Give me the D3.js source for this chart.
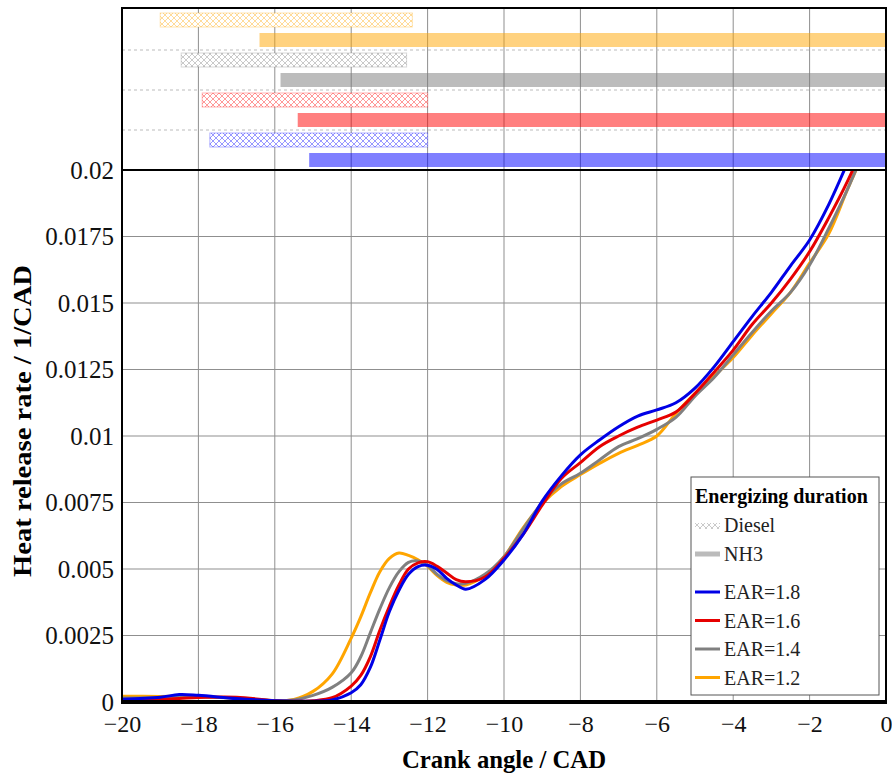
<!DOCTYPE html>
<html>
<head>
<meta charset="utf-8">
<script src="https://cdn.jsdelivr.net/npm/d3@7"></script>
<style>
  body { margin: 0; background: #fff; }
  text { font-family: 'Liberation Serif', 'Times New Roman', serif; }
</style>
</head>
<body>
<div class="canvas"></div>
<script>
// crank angle grid (CAD)
const crankAngle = [-20, -19, -18.5, -18, -17, -16, -15.5, -15, -14.5, -14, -13.75, -13.5, -13.25, -13,
  -12.75, -12.5, -12.25, -12, -11.75, -11.5, -11.25, -11, -10.5, -10, -9.5, -9, -8.5, -8, -7.5, -7,
  -6.5, -6, -5.5, -5, -4.5, -4, -3.5, -3, -2.5, -2, -1.5, -1, -0.5]

// heat release rate (1/CAD)
const hrr18 = [0.0001, 0.00018, 0.00028, 0.00025, 0.00013, 0.00005, 0.00003, 0.00003, 0.00008, 0.00035, 0.00065, 0.0013, 0.00233, 0.0034,
  0.0042, 0.0048, 0.00509, 0.00514, 0.00498, 0.00465, 0.0044, 0.00424, 0.0046, 0.00534, 0.0063, 0.00755, 0.0085, 0.00929, 0.00985, 0.01035,
  0.01075, 0.01098, 0.01125, 0.0118, 0.0126, 0.01355, 0.0145, 0.0154, 0.0164, 0.01737, 0.0187, 0.0203, 0.022]
const hrr16 = [0.00007, 0.0001, 0.00013, 0.00017, 0.00018, 0.00005, 0.00003, 0.00005, 0.00016, 0.0006, 0.001, 0.0017, 0.0027, 0.0036,
  0.0044, 0.005, 0.00523, 0.00527, 0.0051, 0.00485, 0.0046, 0.00452, 0.0047, 0.0054, 0.0063, 0.0074, 0.0084, 0.009, 0.0096, 0.01,
  0.01033, 0.0106, 0.0109, 0.0116, 0.0124, 0.01323, 0.0142, 0.015, 0.0159, 0.01693, 0.0182, 0.0196, 0.0212]
const hrr14 = [0.00015, 0.00017, 0.0002, 0.0002, 0.00014, 0.00005, 0.00008, 0.00025, 0.00055, 0.0011, 0.0017, 0.0026, 0.0035, 0.0043,
  0.0049, 0.00525, 0.0053, 0.00512, 0.0048, 0.00456, 0.00445, 0.00446, 0.0048, 0.00546, 0.0065, 0.0075, 0.0082, 0.0086, 0.0091, 0.0096,
  0.0099, 0.01025, 0.0107, 0.0115, 0.0122, 0.01305, 0.0139, 0.0147, 0.0154, 0.01643, 0.0178, 0.0193, 0.021]
const hrr12 = [0.00022, 0.00021, 0.00022, 0.00022, 0.00014, 0.00005, 0.0001, 0.0004, 0.00105, 0.0024, 0.0032, 0.0041, 0.0049, 0.0054,
  0.0056, 0.00551, 0.00535, 0.0051, 0.00475, 0.0045, 0.0044, 0.0044, 0.00475, 0.00546, 0.00655, 0.00745, 0.0081, 0.00855, 0.00897, 0.00935,
  0.00965, 0.01, 0.01085, 0.0116, 0.01225, 0.01295, 0.0138, 0.0146, 0.0154, 0.0165, 0.0176, 0.0193, 0.0209]

// energizing duration bars (CAD), top to bottom
const barCases = ['EAR=1.2', 'EAR=1.4', 'EAR=1.6', 'EAR=1.8']
const dieselStart = [-19.0, -18.45, -17.9, -17.7]
const dieselEnd = [-12.4, -12.55, -12.0, -12.0]
const nh3Start = [-16.4, -15.85, -15.4, -15.1]
const nh3End = [0, 0, 0, 0]

const xTicks = d3.range(-20, 1, 2)
const yTicks = d3.range(0, 0.0201, 0.0025)

const series = [
  { name: 'EAR=1.8', values: hrr18, color: '#0000e6' },
  { name: 'EAR=1.6', values: hrr16, color: '#e60000' },
  { name: 'EAR=1.4', values: hrr14, color: '#808080' },
  { name: 'EAR=1.2', values: hrr12, color: '#ffa500' }
]
const barColor = { 'EAR=1.2': '#ffa500', 'EAR=1.4': '#7a7a7a', 'EAR=1.6': '#ff0000', 'EAR=1.8': '#0000ff' }

const dims = { width: 892, height: 778 }
const plot = { left: 122, right: 886, top: 8, split: 170, bottom: 702 }

const svg = d3.select('.canvas').append('svg')
  .attr('width', dims.width)
  .attr('height', dims.height)

const x = d3.scaleLinear().domain([-20, 0]).range([plot.left, plot.right])
const y = d3.scaleLinear().domain([0, 0.02]).range([plot.bottom, plot.split])

const groupY = d3.scaleBand().domain(barCases).range([10, plot.split])
const rowY = d3.scaleBand().domain(['diesel', 'nh3']).range([0, groupY.bandwidth()])
  .paddingInner(0.3).paddingOuter(0.15)

// hatch patterns
const defs = svg.append('defs')
barCases.forEach((c, i) => {
  const p = defs.append('pattern')
    .attr('id', `hatch${i}`)
    .attr('patternUnits', 'userSpaceOnUse')
    .attr('width', 6).attr('height', 6)
  p.append('rect').attr('width', 6).attr('height', 6).attr('fill', '#fff')
  p.append('path')
    .attr('d', 'M0,0 L6,6 M6,0 L0,6')
    .attr('stroke', barColor[c])
    .attr('stroke-opacity', 0.5)
    .attr('stroke-width', 0.8)
})
defs.append('clipPath').attr('id', 'plotClip')
  .append('rect')
  .attr('x', plot.left).attr('y', plot.split)
  .attr('width', plot.right - plot.left).attr('height', plot.bottom - plot.split)

// grid
svg.append('g')
  .selectAll('line')
  .data(xTicks.slice(1, -1))
  .join('line')
  .attr('x1', d => x(d)).attr('x2', d => x(d))
  .attr('y1', plot.top).attr('y2', plot.bottom)
  .attr('stroke', '#8f8f8f').attr('stroke-width', 1)

svg.append('g')
  .selectAll('line')
  .data(yTicks.slice(1, -1))
  .join('line')
  .attr('x1', plot.left).attr('x2', plot.right)
  .attr('y1', d => y(d)).attr('y2', d => y(d))
  .attr('stroke', '#8f8f8f').attr('stroke-width', 1)

svg.append('g')
  .selectAll('line')
  .data(barCases.slice(1))
  .join('line')
  .attr('x1', plot.left).attr('x2', plot.right)
  .attr('y1', d => groupY(d)).attr('y2', d => groupY(d))
  .attr('stroke', '#bbb').attr('stroke-width', 1)
  .attr('stroke-dasharray', '3,3')

// energizing duration bars
const bars = svg.append('g')
bars.selectAll('rect.diesel')
  .data(barCases)
  .join('rect')
  .attr('class', 'diesel')
  .attr('x', (d, i) => x(dieselStart[i]))
  .attr('width', (d, i) => x(dieselEnd[i]) - x(dieselStart[i]))
  .attr('y', d => groupY(d) + rowY('diesel'))
  .attr('height', rowY.bandwidth())
  .attr('fill', (d, i) => `url(#hatch${i})`)
  .attr('stroke', d => barColor[d])
  .attr('stroke-opacity', 0.3)

bars.selectAll('rect.nh3')
  .data(barCases)
  .join('rect')
  .attr('class', 'nh3')
  .attr('x', (d, i) => x(nh3Start[i]))
  .attr('width', (d, i) => x(nh3End[i]) - x(nh3Start[i]))
  .attr('y', d => groupY(d) + rowY('nh3'))
  .attr('height', rowY.bandwidth())
  .attr('fill', d => barColor[d])
  .attr('fill-opacity', 0.5)

// heat release curves
const line = d3.line()
  .x((d, i) => x(crankAngle[i]))
  .y(d => y(d))
  .curve(d3.curveCatmullRom.alpha(0.5))

svg.append('g')
  .attr('clip-path', 'url(#plotClip)')
  .selectAll('path')
  .data(series.slice().reverse())
  .join('path')
  .attr('d', d => line(d.values))
  .attr('fill', 'none')
  .attr('stroke', d => d.color)
  .attr('stroke-width', 3)
  .attr('stroke-linejoin', 'round')

// axes
const xAxis = d3.axisBottom(x).tickValues(xTicks).tickSize(0).tickPadding(13)
const yAxis = d3.axisLeft(y).tickValues(yTicks).tickSize(0).tickPadding(8)
  .tickFormat(d => String(+d.toFixed(4)))

const gx = svg.append('g')
  .attr('transform', `translate(0, ${plot.bottom})`)
  .call(xAxis)
gx.select('.domain').remove()
gx.selectAll('text').attr('font-size', 24).attr('fill', '#111')
  .style('font-family', "'Liberation Serif', serif")

const gy = svg.append('g')
  .attr('transform', `translate(${plot.left}, 0)`)
  .call(yAxis)
gy.select('.domain').remove()
gy.selectAll('text').attr('font-size', 25).attr('fill', '#111')
  .style('font-family', "'Liberation Serif', serif")

// frame
svg.append('rect')
  .attr('x', plot.left).attr('y', plot.top)
  .attr('width', plot.right - plot.left).attr('height', plot.bottom - plot.top)
  .attr('fill', 'none').attr('stroke', '#000').attr('stroke-width', 2)
svg.append('line')
  .attr('x1', plot.left).attr('x2', plot.right)
  .attr('y1', plot.split).attr('y2', plot.split)
  .attr('stroke', '#000').attr('stroke-width', 2)
svg.append('line')
  .attr('x1', plot.left - 1).attr('x2', plot.right + 1)
  .attr('y1', plot.bottom).attr('y2', plot.bottom)
  .attr('stroke', '#000').attr('stroke-width', 4)

// axis titles
svg.append('text')
  .attr('x', (plot.left + plot.right) / 2)
  .attr('y', 768)
  .attr('text-anchor', 'middle')
  .attr('font-size', 25).attr('font-weight', 'bold')
  .attr('textLength', 204).attr('lengthAdjust', 'spacingAndGlyphs')
  .text('Crank angle / CAD')

svg.append('text')
  .attr('transform', `translate(31, 421) rotate(-90)`)
  .attr('text-anchor', 'middle')
  .attr('font-size', 25).attr('font-weight', 'bold')
  .attr('textLength', 312).attr('lengthAdjust', 'spacingAndGlyphs')
  .text('Heat release rate / 1/CAD')

// legend
const legend = svg.append('g').attr('transform', 'translate(691, 477)')
legend.append('rect')
  .attr('width', 188).attr('height', 218)
  .attr('fill', '#fff').attr('stroke', '#555').attr('stroke-width', 1)
legend.append('text')
  .attr('x', 4).attr('y', 26)
  .attr('font-size', 20).attr('font-weight', 'bold')
  .text('Energizing duration')

legend.append('rect')
  .attr('x', 4).attr('y', 46).attr('width', 25).attr('height', 6)
  .attr('fill', 'url(#hatch1)')
legend.append('text').attr('x', 33).attr('y', 55).attr('font-size', 20).attr('fill', '#222').text('Diesel')

legend.append('line')
  .attr('x1', 4).attr('x2', 29).attr('y1', 77).attr('y2', 77)
  .attr('stroke', '#bbb').attr('stroke-width', 5)
legend.append('text').attr('x', 33).attr('y', 84).attr('font-size', 20).attr('fill', '#222').text('NH3')

const items = legend.selectAll('g.item')
  .data(series)
  .join('g')
  .attr('class', 'item')
  .attr('transform', (d, i) => `translate(4, ${115 + i * 28.5})`)
items.append('line')
  .attr('x1', 0).attr('x2', 25)
  .attr('stroke', d => d.color).attr('stroke-width', 3)
items.append('text')
  .attr('x', 29).attr('y', 7)
  .attr('font-size', 20).attr('fill', '#222')
  .text(d => d.name)
</script>
</body>
</html>
